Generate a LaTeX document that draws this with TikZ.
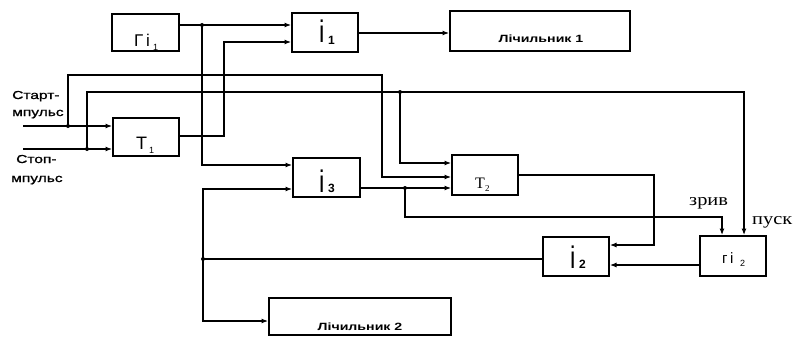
\documentclass[tikz,border=0pt]{standalone}
\usepackage{fontspec}
\setmainfont{Liberation Sans}
\newfontfamily\lblfont[FakeStretch=1.35,FakeBold=1.2]{Liberation Sans}
\newfontfamily\cntfont[FakeStretch=1.35]{Liberation Sans}
\newfontfamily\tagfont[FakeStretch=1.2]{Liberation Serif}
\newfontfamily\serfont{Liberation Serif}
\usetikzlibrary{arrows.meta}
\begin{document}
\begin{tikzpicture}[x=1pt,y=-1pt,
  blk/.style={draw, line width=2pt, inner sep=0pt},
  wire/.style={line width=1.1pt},
  conn/.style={wire, -{Latex[length=6.5pt,width=5pt]}},
  txt/.style={inner sep=0pt, anchor=base west},
  side/.style={txt, font=\lblfont\fontsize{11.5}{12}\selectfont},
  cnt/.style={inner sep=0pt, anchor=base, font=\cntfont\bfseries\fontsize{10.5}{11}\selectfont},
  tag/.style={txt, font=\tagfont\fontsize{17}{18}\selectfont},
  big/.style={txt, font=\fontsize{24}{24}\selectfont},
  sub/.style={txt, font=\bfseries\fontsize{12}{12}\selectfont}]
\useasboundingbox (0,0) rectangle (797,337);
% blocks
\node[blk, minimum width=67pt, minimum height=37pt] (ri1) at (145.5,32.5) {};
\node[blk, minimum width=66pt, minimum height=39pt] (i1) at (325,32.5) {};
\node[blk, minimum width=180pt, minimum height=40pt] (L1) at (540,31) {};
\node[blk, minimum width=66pt, minimum height=38pt] (T1) at (146,137) {};
\node[blk, minimum width=67pt, minimum height=39pt] (i3) at (326.5,177.5) {};
\node[blk, minimum width=66pt, minimum height=40pt] (T2) at (485,175) {};
\node[blk, minimum width=66pt, minimum height=39pt] (i2) at (576,256.5) {};
\node[blk, minimum width=66pt, minimum height=40pt] (ri2) at (733,256) {};
\node[blk, minimum width=182pt, minimum height=37pt] (L2) at (360,316.5) {};
% block texts
\node[txt, font=\fontsize{17}{17}\selectfont] (ri1t) at (134,47) {Г\,i};
\node[sub, font=\fontsize{9}{9}\selectfont] (ri1s) at (153,51) {1};
\node[big] (i1t) at (319,43) {\scalebox{1}[1.3]{i}};
\node[sub] (i1s) at (328,45) {1};
\node[cnt] (L1t) at (541,43) {Лічильник 1};
\node[txt, font=\fontsize{18}{18}\selectfont] (T1t) at (136,149) {T};
\node[sub, font=\fontsize{9}{9}\selectfont] (T1s) at (149,153) {1};
\node[big] (i3t) at (319,192) {\scalebox{1}[1.3]{i}};
\node[sub] (i3s) at (328,192) {3};
\node[txt, font=\serfont\fontsize{16}{16}\selectfont] (T2t) at (475,188) {T};
\node[sub, font=\serfont\fontsize{9}{9}\selectfont] (T2s) at (485,191) {2};
\node[big] (i2t) at (570,268) {\scalebox{1}[1.3]{i}};
\node[sub] (i2s) at (579,268) {2};
\node[txt, font=\fontsize{15}{15}\selectfont] (ri2t) at (722,263) {г\,i};
\node[sub, font=\fontsize{9}{9}\selectfont] (ri2s) at (740,266) {2};
\node[cnt] (L2t) at (360,330) {Лічильник 2};
% side labels
\node[side] (st1) at (12,99) {Старт-};
\node[side] (st2) at (12,116) {мпульс};
\node[side] (sp1) at (16,163) {Стоп-};
\node[side] (sp2) at (11,182) {мпульс};
\node[tag] (zr) at (689,205) {зрив};
\node[tag] (pu) at (752,224) {пуск};
% coordinates
\coordinate (startin) at (23,126);
\coordinate (stopin) at (23,149);
\coordinate (jA) at (202,25);
\coordinate (jS) at (68,126);
\coordinate (jP) at (87,149);
\coordinate (jT) at (400,92);
\coordinate (jZ) at (405,188);
\coordinate (jB) at (203,259);
% connectors
\draw[conn] (ri1.east |- jA) -- (i1.west |- jA);
\draw[conn] (jA) |- (i3.west |- 0,165);
\draw[conn] (T1.east |- 0,136) -- (224,136) |- (i1.west |- 0,42);
\draw[conn] (startin) -- (T1.west |- startin);
\draw[conn] (stopin) -- (T1.west |- stopin);
\draw[conn] (jS) |- (382,75) |- (T2.west |- 0,177);
\draw[conn] (jP) |- (jT) -| (ri2.north -| 744,0);
\draw[conn] (jT) |- (T2.west |- 0,163);
\draw[conn] (i3.east |- jZ) -- (T2.west |- jZ);
\draw[conn] (jZ) -- (405,217) -| (ri2.north -| 722,0);
\draw[conn] (T2.east |- 0,175) -| (654,245) -- (i2.east |- 0,245);
\draw[conn] (ri2.west |- 0,265) -- (i2.east |- 0,265);
\draw[wire] (i2.west |- jB) -- (jB);
\draw[conn] (jB) |- (i3.west |- 0,189);
\draw[conn] (jB) |- (L2.west |- 0,321);
\draw[conn] (i1.east |- 0,33) -- (L1.west |- 0,33);
% junction dots
\foreach \j in {jA,jS,jP,jT,jZ,jB} \fill (\j) circle[radius=2pt];
\end{tikzpicture}
\end{document}
